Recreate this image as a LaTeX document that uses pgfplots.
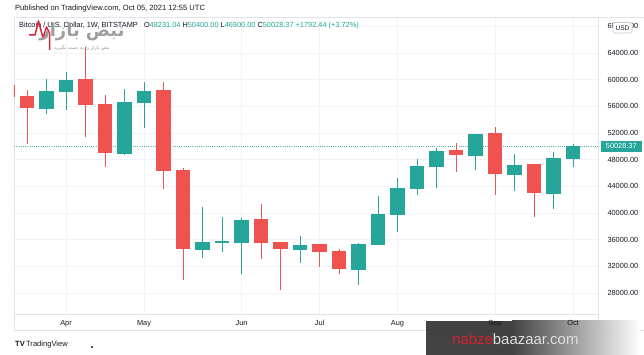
\documentclass[border=0pt]{standalone}
\usepackage{pgfplots}
\pgfplotsset{compat=1.18}
\usepackage{pgfplotstable}
\usepackage{fontspec}
\setmainfont{Liberation Sans}
\newfontfamily\arabicfont[Script=Arabic]{DejaVu Sans}
\TeXXeTstate=1
\definecolor{tvgreen}{HTML}{26A69A}
\definecolor{tvred}{HTML}{EF5350}
\definecolor{tvtext}{HTML}{131722}
\definecolor{tvgrid}{HTML}{F0F3FA}
\definecolor{tvborder}{HTML}{E0E3EB}
\definecolor{wmdark}{HTML}{2E2E2E}
\definecolor{wmred}{HTML}{D3202F}
\definecolor{logored}{HTML}{D7263D}

% weekly BTC/USD candles, k = week index (0 = week of 22 Mar 2021)
\pgfplotstableread{
k o h l c
-1 59050 60800 55600 57400
0 57400 58450 50300 55750
3 59950 64900 51450 56200
4 56200 57700 46950 49050
7 58350 59600 43600 46350
8 46350 46750 29900 34600
12 38950 41350 33150 35450
13 35500 35650 28400 34600
15 35200 35300 31900 34100
16 34100 34600 30900 31650
22 49300 50550 46200 48750
24 51800 52900 42750 45900
26 47200 47350 39450 43050
}\downdata
\pgfplotstableread{
k o h l c
1 55750 60050 54900 58250
2 58250 61150 55400 59950
5 49050 58550 48750 56650
6 56650 59600 52800 58350
9 34600 40850 33300 35650
10 35650 39400 34100 35800
11 35650 39300 30900 38950
14 34600 36550 32550 35200
17 31650 35450 29150 35350
18 35350 42550 35150 39800
19 39800 45300 37200 43750
20 43750 48150 42650 47050
21 47050 49700 43800 49300
23 48750 51900 46500 51800
25 45900 48850 43350 47200
27 43050 49150 40650 48200
28 48231.04 50400 46900 50028.37
}\updata

\begin{document}
\begin{tikzpicture}
\fill[white] (0,0) rectangle (644bp,355bp);
\begin{scope}[x=1bp, y=-1bp, shift={(0,355bp)}]
% frame
\draw[tvborder, line width=0.8bp] (14,17) rectangle (644,330);
\draw[tvborder, line width=0.8bp] (598,17) -- (598,330);
% watermark (behind the axis labels)
\fill[wmdark, opacity=0.9] (426,321) rectangle (512,355);
\shade[left color=wmdark, right color=white, opacity=0.9] (512,321) rectangle (640,355);
\node[anchor=base west, inner sep=0, font=\fontsize{15}{16}\selectfont] at (452,345)
  {\textcolor{wmred}{nabze}\textcolor{gray!25}{baazaar.com}};
\end{scope}
\begin{axis}[
  at={(14bp,41bp)}, anchor=south west, scale only axis,
  width=584bp, height=297bp,
  xmin=-0.667, xmax=29.28, ymin=24850, ymax=69400,
  axis line style={draw=tvborder, line width=0.8bp},
  major tick length=0pt,
  xtick={2,6,11,15,19,24,28},
  xticklabels={Apr,May,Jun,Jul,Aug,Sep,Oct},
  xticklabel style={anchor=base, yshift=-11bp, font=\fontsize{7.4}{8}\selectfont, text=tvtext},
  ytick={28000,32000,36000,40000,44000,48000,52000,56000,60000,64000,68000},
  yticklabel pos=right,
  yticklabel style={anchor=west, xshift=6bp, font=\fontsize{7.4}{8}\selectfont, text=tvtext},
  /pgf/number format/fixed,
  /pgf/number format/fixed zerofill,
  /pgf/number format/precision=2,
  /pgf/number format/1000 sep={},
  /pgf/number format/assume math mode=true,
  scaled y ticks=false,
  xmajorgrids, ymajorgrids,
  grid style={draw=tvgrid, line width=0.8bp},
]
% current price line
\addplot[forget plot, tvgreen!80, line width=0.6bp, dash pattern=on 0.7bp off 1.5bp]
  coordinates {(-1,50028.37) (30,50028.37)};
% wicks
\addplot[forget plot, draw=none, mark=none,
  error bars/.cd, y dir=both, y explicit, error mark=none,
  error bar style={draw=tvred, line width=1bp}]
  table[x=k, y=c, y error plus expr={\thisrow{h}-\thisrow{c}}, y error minus expr={\thisrow{c}-\thisrow{l}}] {\downdata};
\addplot[forget plot, draw=none, mark=none,
  error bars/.cd, y dir=both, y explicit, error mark=none,
  error bar style={draw=tvgreen, line width=1bp}]
  table[x=k, y=c, y error plus expr={\thisrow{h}-\thisrow{c}}, y error minus expr={\thisrow{c}-\thisrow{l}}] {\updata};
% bodies
\addplot[forget plot, draw=none, mark=none,
  error bars/.cd, y dir=both, y explicit, error mark=none,
  error bar style={draw=tvred, line width=14.6bp}]
  table[x=k, y=c, y error plus expr={\thisrow{o}-\thisrow{c}+150}, y error minus expr={0}] {\downdata};
\addplot[forget plot, draw=none, mark=none,
  error bars/.cd, y dir=both, y explicit, error mark=none,
  error bar style={draw=tvgreen, line width=14.6bp}]
  table[x=k, y=c, y error plus expr={0}, y error minus expr={\thisrow{c}-\thisrow{o}+150}] {\updata};
\end{axis}

\begin{scope}[x=1bp, y=-1bp, shift={(0,355bp)}]
% header
\node[anchor=west, inner sep=0, text=tvtext, font=\fontsize{7.6}{9}\selectfont] at (15,8.5)
  {Published on TradingView.com, Oct 05, 2021 12:55 UTC};
\node[anchor=west, inner sep=0, text=tvtext, font=\fontsize{7.4}{9}\selectfont] at (19,25.5)
  {Bitcoin / U.S. Dollar, 1W, BITSTAMP\ \ \ O\textcolor{tvgreen}{48231.04}\ H\textcolor{tvgreen}{50400.00}\ L\textcolor{tvgreen}{46900.00}\ C\textcolor{tvgreen}{50028.37}\ \textcolor{tvgreen}{+1792.44 (+3.72\%)}};
% logo top-left
\draw[logored, line width=1.5bp, line join=round] (29,35) -- (35,35) -- (38.5,21) -- (43,38) -- (46.5,27) -- (49.5,33) -- (49.5,50);
\node[inner sep=0, text=gray!75, font=\fontsize{18}{20}\selectfont\arabicfont\bfseries] at (82,32) {\beginR نبض بازار\endR};
\node[inner sep=0, text=gray!85, font=\fontsize{4.8}{5}\selectfont\arabicfont] at (82,47.5) {\beginR نبض بازار را به دست بگیرید\endR};
% USD box
\draw[gray!45, fill=white, rounded corners=1.5bp, line width=0.6bp] (613,22.5) rectangle (632,33);
\node[inner sep=0, text=tvtext, font=\fontsize{6.6}{7}\selectfont] at (622.5,28) {USD};
% last price label
\fill[tvgreen] (600.5,140.8) rectangle (642,151.6);
\node[inner sep=0, text=white, font=\fontsize{7.4}{8}\selectfont] at (621.3,146.3) {50028.37};
% TradingView footer
\node[anchor=west, inner sep=0, text=tvtext, font=\fontsize{7.6}{9}\selectfont] at (15,345)
  {\textbf{TV}\,TradingView};
\fill[tvtext] (92,347) circle (1.1);
\end{scope}
\pgfresetboundingbox
\path[use as bounding box] (0,0) rectangle (644bp,355bp);
\end{tikzpicture}
\end{document}
